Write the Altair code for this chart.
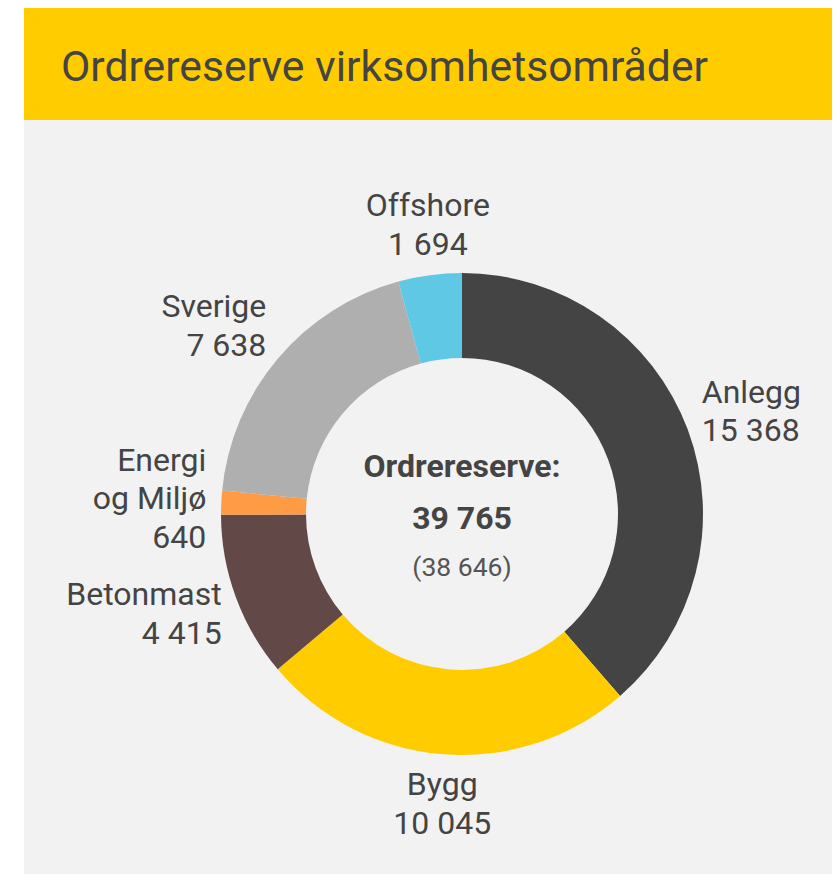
import altair as alt
import pandas as pd

# ---- data ----
categories = ["Anlegg", "Bygg", "Betonmast", "Energi og Miljø", "Sverige", "Offshore"]
label_names = ["Anlegg", "Bygg", "Betonmast", "Energi\nog Miljø", "Sverige", "Offshore"]
values = [15368, 10045, 4415, 640, 7638, 1694]
colors = ["#444444", "#FFCC00", "#634848", "#FF9A45", "#AFAFAF", "#5EC8E5"]
title_text = "Ordrereserve virksomhetsområder"
center_title = "Ordrereserve:"
center_total = "39 765"
center_prev = "(38 646)"


def fmt(v):
    return f"{v:,}".replace(",", " ")


labels = [f"{n}\n{fmt(v)}" for n, v in zip(label_names, values)]
df = pd.DataFrame({
    "idx": list(range(len(categories))),
    "cat": categories,
    "value": values,
    "label": labels,
    "nl": [s.count("\n") + 1 for s in labels],
})

# ---- layout ----
W, H = 824, 866
CX, CY = 454, 506
R_OUT, R_IN = 241, 156
R_LAB = 256
FONT = "Roboto"
TXT = "#444444"
FS, LH = 32, 38.5

one = pd.DataFrame({"a": [0]})

header = alt.Chart(one).mark_rect(color="#FFCC00").encode(
    x=alt.value(16), x2=alt.value(824), y=alt.value(0), y2=alt.value(112)
)
panel = alt.Chart(one).mark_rect(color="#F2F2F2").encode(
    x=alt.value(16), x2=alt.value(824), y=alt.value(112), y2=alt.value(H)
)
title = alt.Chart(one).mark_text(
    text=title_text, font=FONT, fontSize=42.7, color=TXT, align="left", baseline="alphabetic"
).encode(x=alt.value(53), y=alt.value(73))

arc = alt.Chart(df).mark_arc(outerRadius=R_OUT, innerRadius=R_IN).encode(
    theta=alt.Theta("value:Q", stack=True),
    color=alt.Color("cat:N", scale=alt.Scale(domain=categories, range=colors), legend=None),
    order=alt.Order("idx:Q", sort="ascending"),
    x=alt.value(CX),
    y=alt.value(CY),
)

lab_base = (
    alt.Chart(df)
    .transform_window(cum="sum(value)", sort=[alt.SortField("idx")], frame=[None, 0])
    .transform_joinaggregate(total="sum(value)")
    .transform_calculate(ang="2*PI*(datum.cum - datum.value/2)/datum.total")
    .transform_calculate(
        lx=f"{CX} + {R_LAB}*sin(datum.ang)",
        half=f"(datum.nl - 1)*{LH}/2 + {FS}/2",
    )
    .transform_calculate(
        cy=f"{CY} - {R_LAB}*cos(datum.ang) - cos(datum.ang)*datum.half",
    )
    .transform_calculate(ly=f"datum.cy - (datum.nl - 1)*{LH}/2")
)
lab_enc = dict(
    x=alt.X("lx:Q", scale=None),
    y=alt.Y("ly:Q", scale=None),
    text=alt.Text("label:N"),
)
txt_style = dict(baseline="middle", font=FONT, fontSize=FS, color=TXT,
                 lineBreak="\n", lineHeight=LH)
lab_right = lab_base.transform_filter("sin(datum.ang) >= 0.3").mark_text(
    align="left", **txt_style).encode(**lab_enc)
lab_mid = lab_base.transform_filter("abs(sin(datum.ang)) < 0.3").mark_text(
    align="center", **txt_style).encode(**lab_enc)
lab_left = lab_base.transform_filter("sin(datum.ang) <= -0.3").mark_text(
    align="right", **txt_style).encode(**lab_enc)

c1 = alt.Chart(one).mark_text(
    text=center_title, font=FONT, fontSize=32, fontWeight="bold", color=TXT,
    align="center", baseline="alphabetic",
).encode(x=alt.value(CX), y=alt.value(469))
c2 = alt.Chart(one).mark_text(
    text=center_total, font=FONT, fontSize=32, fontWeight="bold", color=TXT,
    align="center", baseline="alphabetic",
).encode(x=alt.value(CX), y=alt.value(521))
c3 = alt.Chart(one).mark_text(
    text=center_prev, font=FONT, fontSize=26.5, color="#555555",
    align="center", baseline="alphabetic",
).encode(x=alt.value(CX), y=alt.value(568))

chart = alt.layer(panel, header, title, arc, lab_right, lab_mid, lab_left, c1, c2, c3).properties(
    width=W, height=H, padding=0, autosize=alt.AutoSizeParams(type="none"),
    background="white",
).configure_view(stroke=None)

chart.save("out.html", embed_options={"renderer": "svg", "actions": False})
